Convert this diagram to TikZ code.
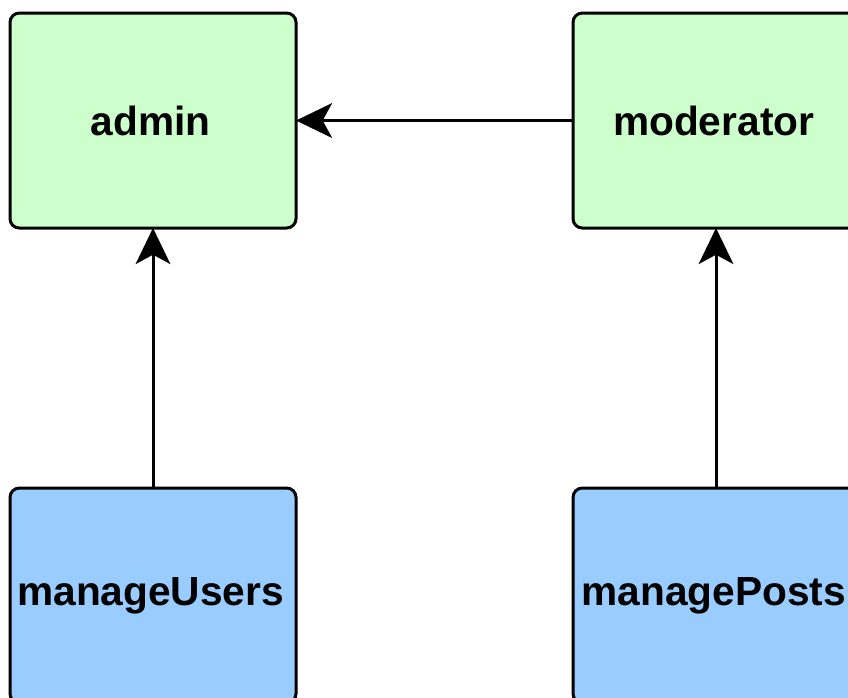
\documentclass[tikz,border=0pt]{standalone}
\usepackage{fontspec}
\setmainfont{Liberation Sans}
\usetikzlibrary{positioning,arrows.meta}
\definecolor{rolegreen}{HTML}{CCFFCC}
\definecolor{permblue}{HTML}{99CCFF}
\begin{document}
\begin{tikzpicture}[node distance=195pt and 207.75pt, auto]
    % Define styles
    \tikzstyle{role} = [rectangle, rounded corners=7pt, minimum width=214.5pt, minimum height=161.25pt, outer sep=0pt, text centered, draw=black, line width=2.25pt, fill=rolegreen, font=\fontsize{30.5}{36}\selectfont\bfseries, execute at begin node={\hspace*{-3.5pt}}]
    \tikzstyle{perm} = [role, fill=permblue]
    \tikzstyle{arrow} = [line width=2.25pt, -{Stealth[length=27pt, width=26pt, inset=7pt]}]

    % Frame
    \useasboundingbox (0,0) rectangle (636pt,-523.5pt);
    \clip (0,0) rectangle (636pt,-523.5pt);

    % Nodes
    \node (admin) [role] at (114.75pt,-90.4pt) {admin};
    \node (moderator) [role, right=of admin] {moderator};
    \node (manage_users) [perm, below=of admin] {manageUsers};
    \node (manage_posts) [perm, below=of moderator] {managePosts};

    % Arrows
    \draw [arrow] (moderator) -- (admin);
    \draw [arrow] (manage_users) -- (admin);
    \draw [arrow] (manage_posts) -- (moderator);
\end{tikzpicture}
\end{document}
